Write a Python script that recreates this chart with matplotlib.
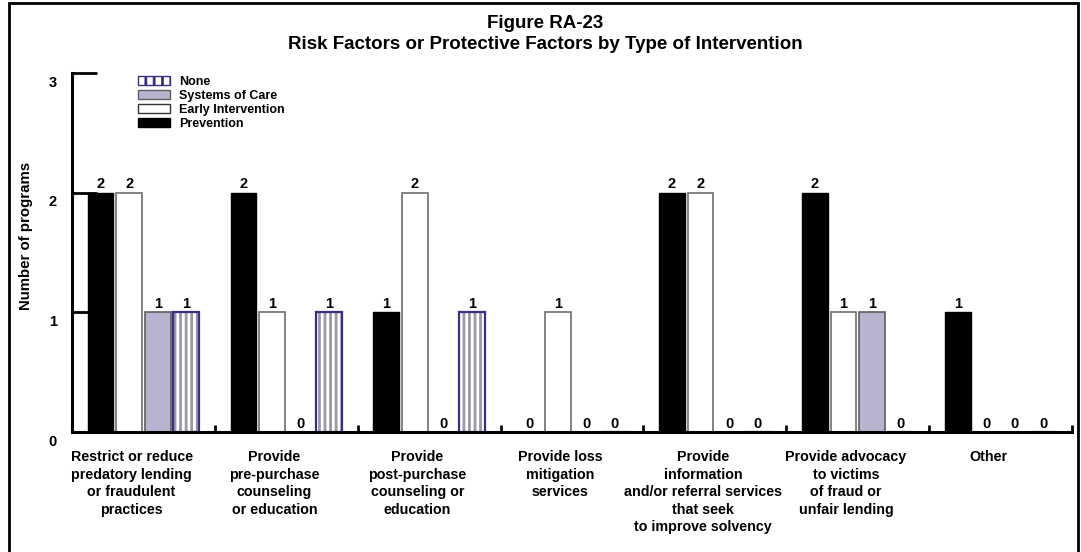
import matplotlib
matplotlib.use("Agg")
import matplotlib.pyplot as plt
import matplotlib.transforms as mtransforms
from matplotlib.patches import Patch, Rectangle
import numpy as np

plt.rcParams['font.family'] = ['Liberation Sans', 'DejaVu Sans']
plt.rcParams['font.weight'] = 'bold'
plt.rcParams['hatch.linewidth'] = 2.0

categories = [
    "Restrict or reduce\npredatory lending\nor fraudulent\npractices",
    "Provide\npre-purchase\ncounseling\nor education",
    "Provide\npost-purchase\ncounseling or\neducation",
    "Provide loss\nmitigation\nservices",
    "Provide\ninformation\nand/or referral services\nthat seek\nto improve solvency",
    "Provide advocacy\nto victims\nof fraud or\nunfair lending",
    "Other",
]
prevention = [2, 2, 1, 0, 2, 2, 1]
early = [2, 1, 2, 1, 2, 1, 0]
systems = [1, 0, 0, 0, 0, 1, 0]
none = [1, 1, 1, 0, 0, 0, 0]

title = "Figure RA-23\nRisk Factors or Protective Factors by Type of Intervention"

fig = plt.figure(figsize=(10.81, 5.52), dpi=100)
ax = fig.add_axes([72/1081, 1 - 432/552, 1000/1081, 359/552])

# outer frame
fig.patches.append(Rectangle((9/1081, -0.02), 1069/1081, 1.02 - 3/552,
                             transform=fig.transFigure, fill=False,
                             edgecolor='black', linewidth=2, zorder=0))

x = np.arange(len(categories))
w = 0.18
b1 = ax.bar(x - 0.3, prevention, w, color='black', edgecolor='black', linewidth=1, zorder=3)
b2 = ax.bar(x - 0.1, early, w, color='white', edgecolor='#6e6e6e', linewidth=1.2, zorder=3)
b3 = ax.bar(x + 0.1, systems, w, color='#b9b3cf', edgecolor='#5e5e5e', linewidth=1.2, zorder=3)
b4 = ax.bar(x + 0.3, none, w, color='white', edgecolor='#9b98a8', hatch='|||', linewidth=0, zorder=3)
ax.bar(x + 0.3, none, w, fill=False, edgecolor='#3b2f85', linewidth=1.6, zorder=4)

for bars in (b1, b2, b3, b4):
    ax.bar_label(bars, padding=1, fontsize=10.5, fontweight='bold')

ax.set_xlim(-0.5, len(categories) - 0.5)
ax.set_ylim(0, 3)

for s in ('top', 'right'):
    ax.spines[s].set_visible(False)
for s in ('left', 'bottom'):
    ax.spines[s].set_linewidth(2.2)
    ax.spines[s].set_zorder(5)

ax.set_yticks([0, 1, 2, 3])
ax.tick_params(axis='y', direction='in', length=18, width=2, pad=11, labelsize=10.5)
for lab in ax.get_yticklabels():
    lab.set_transform(lab.get_transform() + mtransforms.ScaledTranslation(0, -6/72, fig.dpi_scale_trans))

ax.set_xticks(x)
ax.set_xticklabels(categories, fontsize=10.3, fontweight='bold', linespacing=1.32, va='top')
ax.tick_params(axis='x', which='major', length=0, pad=13)
for lab in ax.get_xticklabels():
    lab.set_transform(lab.get_transform() + mtransforms.ScaledTranslation(-8.5/72, 0, fig.dpi_scale_trans))
ax.set_xticks(np.arange(len(categories)) + 0.5, minor=True)
ax.tick_params(axis='x', which='minor', direction='in', length=5, width=2)

ax.set_ylabel("Number of programs", fontsize=10.8, fontweight='bold')
ax.yaxis.set_label_coords(-0.039, 0.546)

fig.text(0.504, 1 - 15/552, title, ha='center', va='top', fontsize=13.5,
         fontweight='bold', linespacing=1.32)

handles = [
    Patch(facecolor='white', edgecolor='#3b2f85', hatch='||', linewidth=1),
    Patch(facecolor='#b9b3cf', edgecolor='#5e5e5e', linewidth=1),
    Patch(facecolor='white', edgecolor='#333333', linewidth=1),
    Patch(facecolor='black', edgecolor='black'),
]
labels = ["None", "Systems of Care", "Early Intervention", "Prevention"]
ax.legend(handles, labels, loc='upper left', bbox_to_anchor=(0.058, 1.012), frameon=False,
          fontsize=9, handlelength=2.6, handleheight=0.7, labelspacing=0.16,
          handletextpad=0.7, borderaxespad=0.2)

fig.savefig("out.png", dpi=100)
